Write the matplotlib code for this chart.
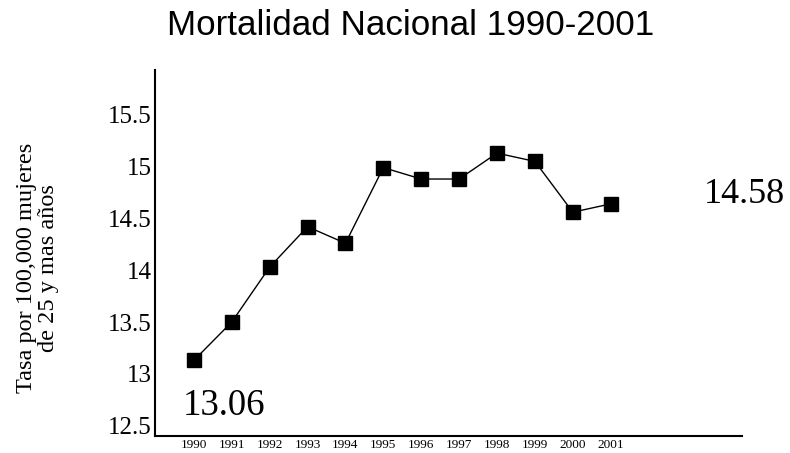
import matplotlib.pyplot as plt

years = [1990, 1991, 1992, 1993, 1994, 1995, 1996, 1997, 1998, 1999, 2000, 2001]
rates = [13.13, 13.50, 14.03, 14.42, 14.26, 14.99, 14.88, 14.88, 15.13, 15.05, 14.56, 14.64]
first_label = "13.06"
last_label = "14.58"
yticks = [12.5, 13, 13.5, 14, 14.5, 15, 15.5]
ytick_labels = ["12.5", "13", "13.5", "14", "14.5", "15", "15.5"]

fig = plt.figure(figsize=(7.9, 4.53), dpi=100)
ax = fig.add_axes([0.196, 0.0375, 0.743, 0.8075])

ax.plot(years, rates, color='black', linewidth=1, marker='s', markersize=9.5,
        markerfacecolor='black', markeredgecolor='black')

ax.set_xlim(1988.97, 2004.46)
ax.set_ylim(12.40, 15.93)
ax.set_yticks(yticks)
ax.set_yticklabels(ytick_labels, family='Liberation Serif', fontsize=18)
ax.set_xticks(years)
ax.set_xticklabels([str(y) for y in years], family='Liberation Serif', fontsize=9.5)
ax.tick_params(axis='both', length=0)
ax.tick_params(axis='y', pad=2)
ax.tick_params(axis='x', pad=2.5)

for side in ['top', 'right']:
    ax.spines[side].set_visible(False)
for side in ['left', 'bottom']:
    ax.spines[side].set_linewidth(1.5)

# end-point value labels
ax.text(1990.8, 12.69, first_label, family='Liberation Serif', fontsize=26.5,
        ha='center', va='center')
ax.text(2003.45, 14.73, last_label, family='Liberation Serif', fontsize=26,
        ha='left', va='center', clip_on=False)

fig.text(0.047, 0.408, "Tasa por 100,000 mujeres\nde 25 y mas años", rotation=90,
         family='Liberation Serif', fontsize=17.5, ha='center', va='center',
         multialignment='center', linespacing=1.05)

fig.text(0.52, 0.943, "Mortalidad Nacional 1990-2001", family='Liberation Sans',
         fontsize=25.2, ha='center', va='center')

fig.savefig("out.png", dpi=100)
